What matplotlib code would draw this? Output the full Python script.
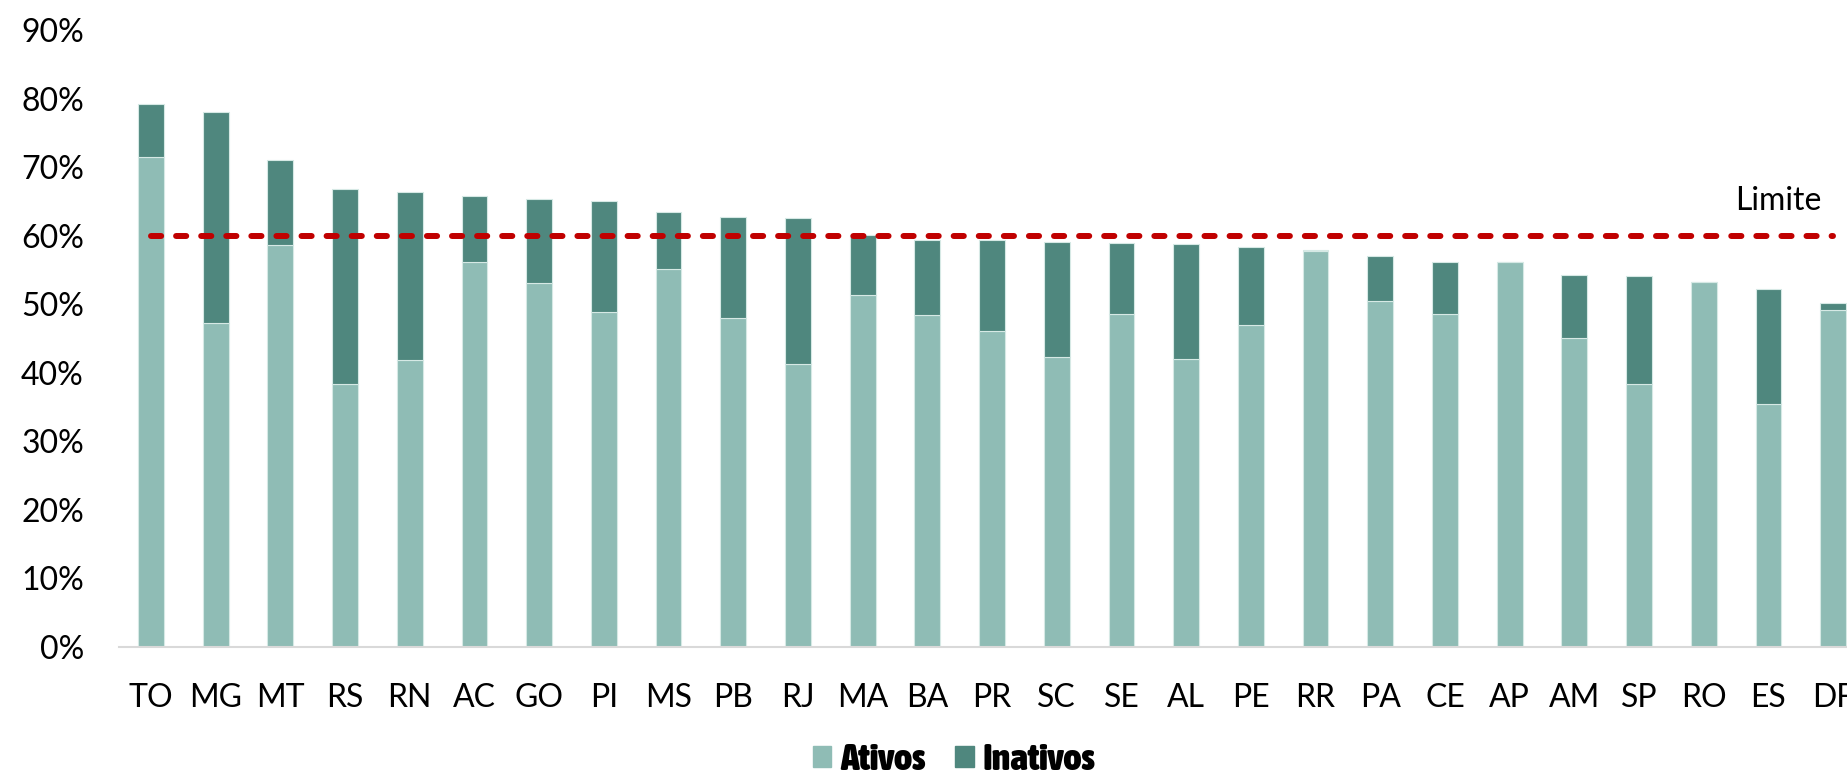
import matplotlib.pyplot as plt
from matplotlib import font_manager
from matplotlib.patches import Patch
from matplotlib.textpath import TextPath
from matplotlib.ticker import PercentFormatter

# Estados, participacao de ativos e inativos (fracao)
estados = ["TO", "MG", "MT", "RS", "RN", "AC", "GO", "PI", "MS", "PB", "RJ", "MA", "BA", "PR",
           "SC", "SE", "AL", "PE", "RR", "PA", "CE", "AP", "AM", "SP", "RO", "ES", "DF"]
ativos = [0.715, 0.473, 0.586, 0.384, 0.418, 0.562, 0.531, 0.489, 0.551, 0.480, 0.413, 0.513,
          0.484, 0.461, 0.423, 0.486, 0.420, 0.470, 0.578, 0.504, 0.486, 0.561, 0.451, 0.384,
          0.532, 0.354, 0.491]
inativos = [0.077, 0.307, 0.124, 0.284, 0.245, 0.096, 0.123, 0.162, 0.084, 0.147, 0.213, 0.088,
            0.110, 0.132, 0.168, 0.103, 0.168, 0.114, 0.001, 0.067, 0.076, 0.000, 0.092, 0.157,
            0.001, 0.168, 0.011]
limite = [0.60] * len(estados)

cor_ativos = "#8FBCB5"
cor_inativos = "#4F877E"

plt.rcParams["font.family"] = ["Lato", "DejaVu Sans"]

# legenda em fonte condensada e negrito; prefere as mais estreitas
candidatas = []
for f in font_manager.fontManager.ttflist:
    nome = (f.name + " " + str(f.stretch)).lower()
    if ("condensed" in nome or "narrow" in nome) and f.weight in ("bold", 700, "heavy", 800, 900):
        candidatas.append(f)
candidatas.sort(key=lambda f: "dejavu" in f.name.lower())
if candidatas:
    fonte_legenda = font_manager.FontProperties(fname=candidatas[0].fname)
else:
    fonte_legenda = font_manager.FontProperties(family="DejaVu Sans", weight="bold")
# tamanho para que "Inativos" tenha ~111 px de largura
largura = TextPath((0, 0), "Inativos", size=100, prop=fonte_legenda).get_extents().width
tam_legenda = min(30, 111 * 0.72 / (largura / 100))
fonte_legenda.set_size(tam_legenda)

fig = plt.figure(figsize=(18.47, 7.76), dpi=100)
ax = fig.add_axes([118.6 / 1847, 1 - 647 / 776, 1746.9 / 1847, (647 - 30) / 776])

x = range(len(estados))
ax.bar(x, ativos, width=0.4, color=cor_ativos, edgecolor="#D6E9E5", linewidth=0.8, zorder=2)
ax.bar(x, inativos, width=0.4, bottom=ativos, color=cor_inativos, edgecolor="#D6E9E5",
       linewidth=0.8, zorder=2)

linha, = ax.plot(x, limite, color="#C00000", linewidth=4.3, dash_capstyle="round", zorder=3)
linha.set_dashes((1.7, 2.5))

fig.text(1822 / 1847, 1 - 201 / 776, "Limite", fontsize=23, ha="right", va="center")

ax.set_xlim(-0.5, 26.5)
ax.set_ylim(0, 0.9)
ax.set_yticks([i / 10 for i in range(10)])
ax.yaxis.set_major_formatter(PercentFormatter(1.0, decimals=0))
ax.set_xticks(list(x))
ax.set_xticklabels(estados)
ax.tick_params(axis="both", length=0, labelsize=23)
ax.tick_params(axis="x", pad=26)
ax.tick_params(axis="y", pad=25)

for lado in ["top", "right", "left"]:
    ax.spines[lado].set_visible(False)
ax.spines["bottom"].set_color("#D9D9D9")
ax.spines["bottom"].set_linewidth(1.5)

quadrado = 13.5 / tam_legenda
handles = [Patch(color=cor_ativos, label="Ativos"), Patch(color=cor_inativos, label="Inativos")]
fig.legend(handles=handles, loc="center", bbox_to_anchor=(954 / 1847, 1 - 760 / 776), ncol=2,
           frameon=False, handlelength=quadrado, handleheight=quadrado,
           handletextpad=6.5 / tam_legenda, columnspacing=21 / tam_legenda,
           borderaxespad=0, borderpad=0, prop=fonte_legenda)

fig.savefig("out.png", dpi=100)
